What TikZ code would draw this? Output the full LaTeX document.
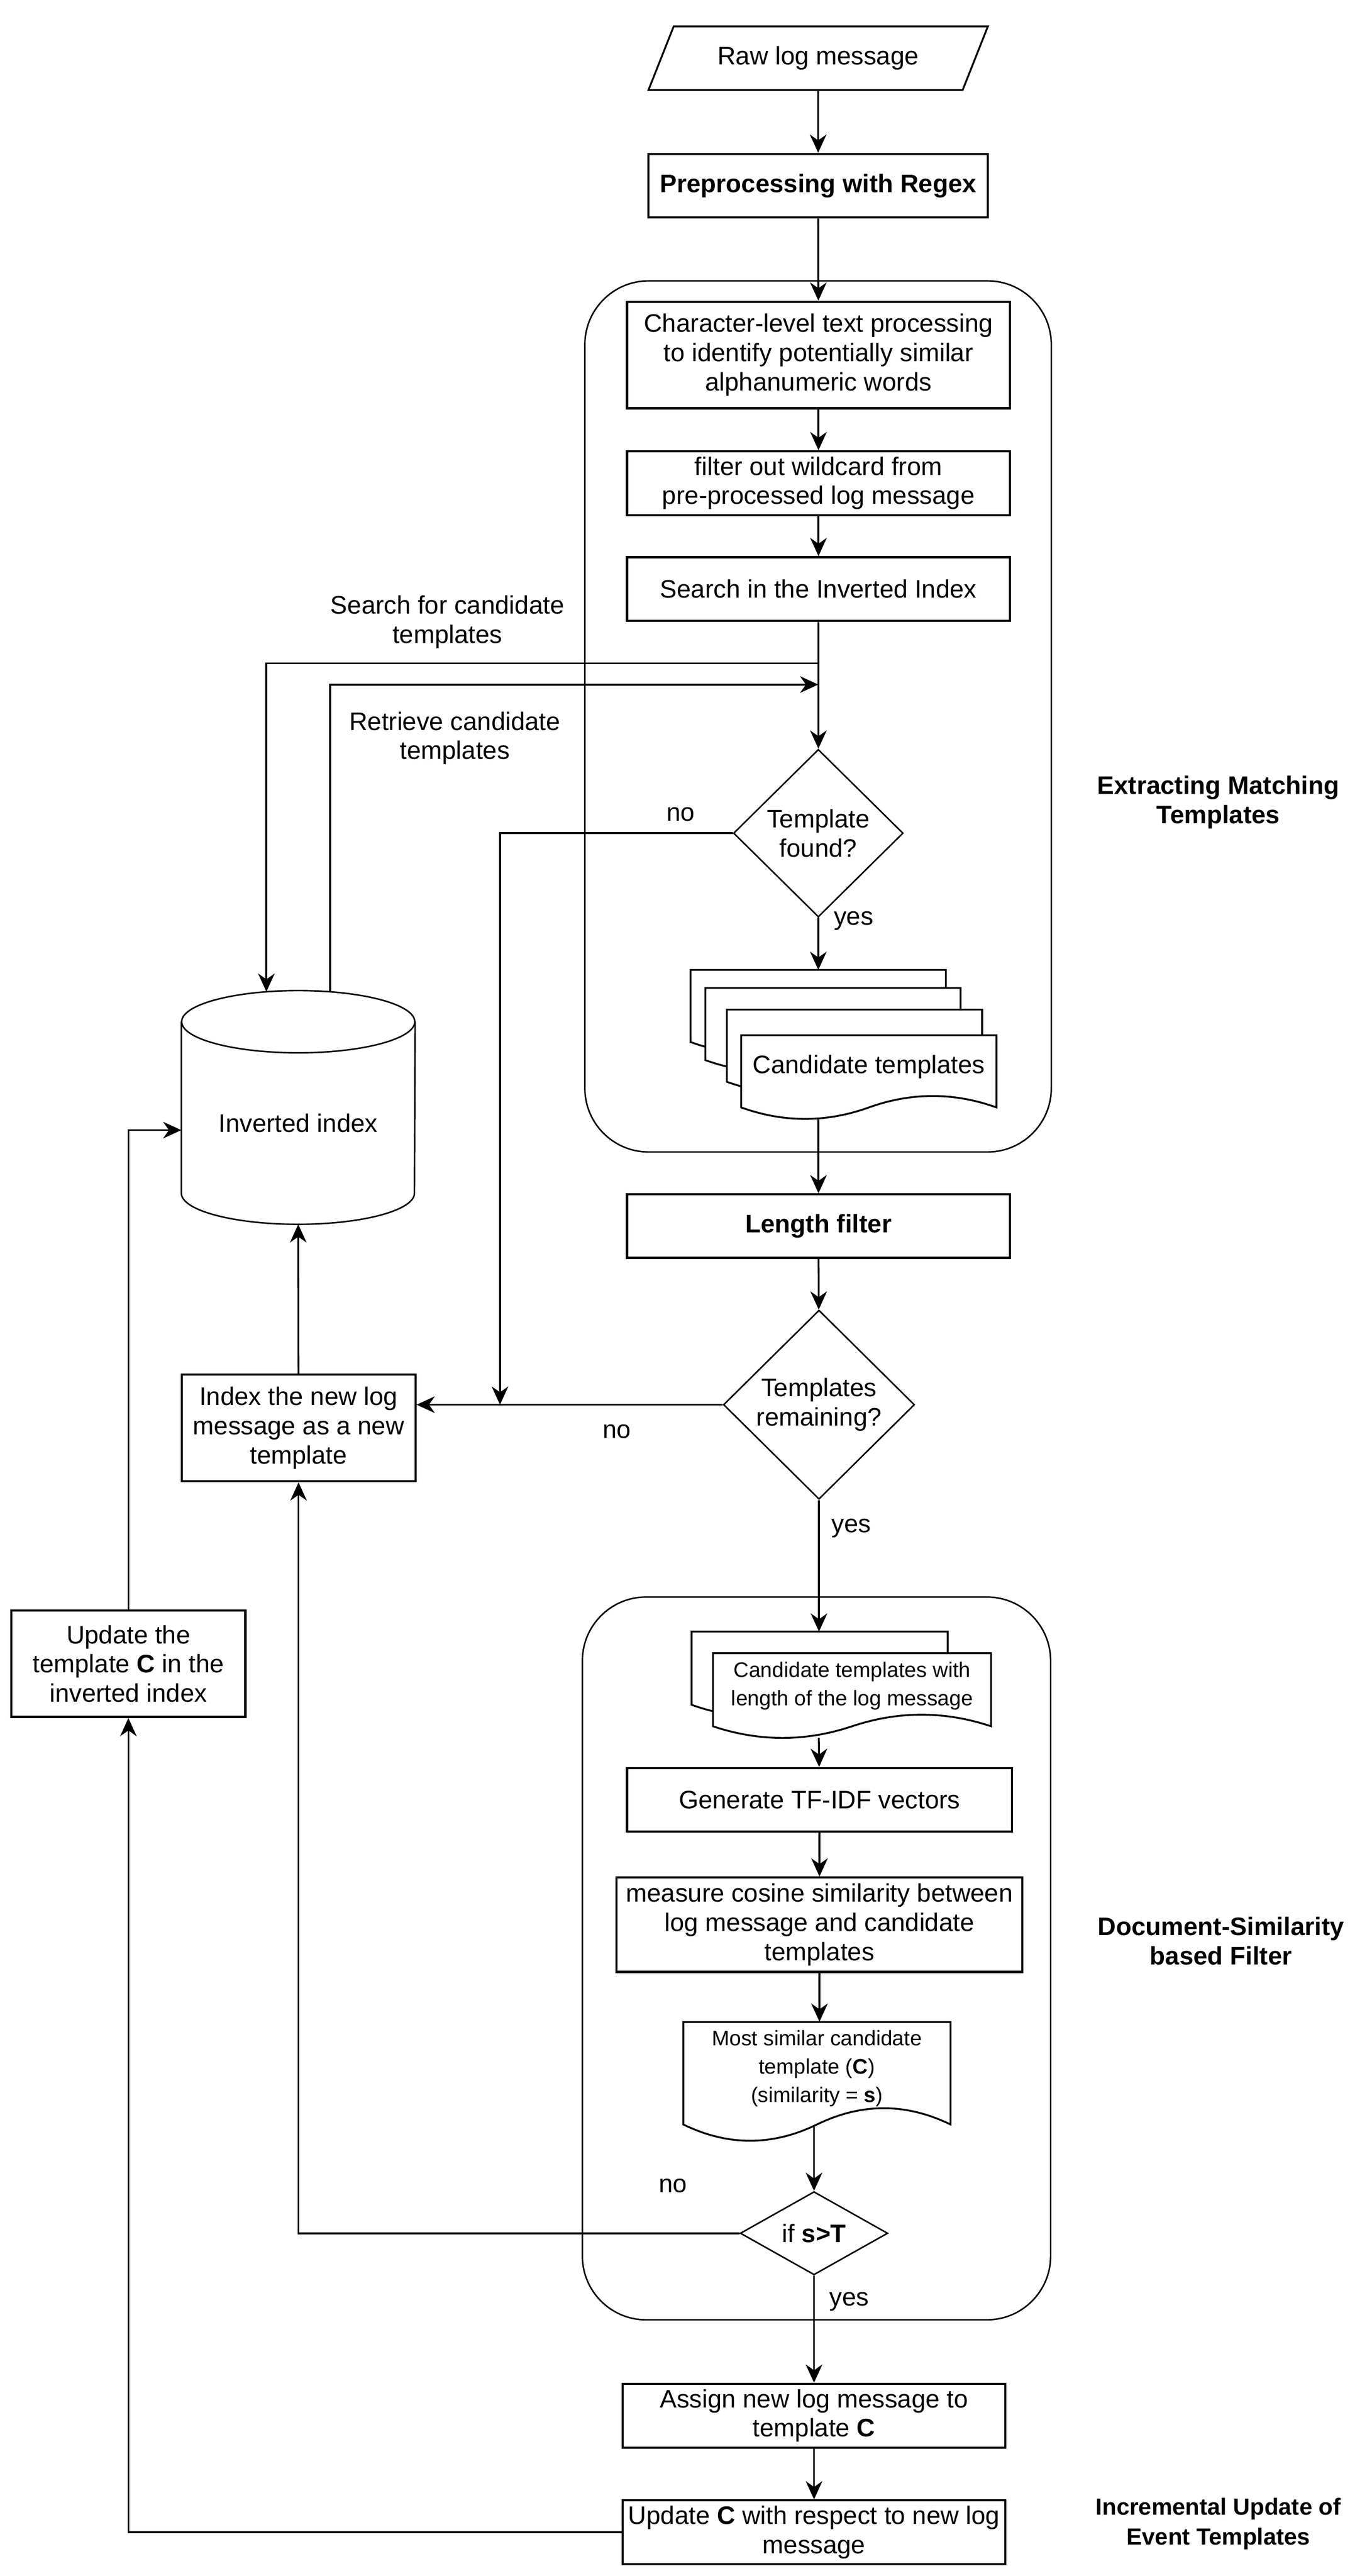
\documentclass[tikz,border=0pt]{standalone}
\usepackage{fontspec}
\setmainfont{Liberation Sans}
\usetikzlibrary{arrows.meta,positioning,shapes.geometric,calc}

\newcommand{\mainsize}{\fontsize{15.3pt}{17.7pt}\selectfont}
\newcommand{\docsize}{\fontsize{12.75pt}{17.1pt}\selectfont}
\newcommand{\titlesize}{\fontsize{14.1pt}{17.8pt}\selectfont}
% document shape: left, top, width, height
\newcommand{\docframe}[4]{%
  \begin{scope}[shift={(#1,#2)},x=#3pt,y=-#4pt]
    \draw[docline] (0,0) -- (1,0) -- (1,0.85)
      .. controls (0.8333,0.67) and (0.6667,0.67) .. (0.5,0.85)
      .. controls (0.3333,1.03) and (0.1667,1.03) .. (0,0.85) -- cycle;
  \end{scope}}

\begin{document}
\begin{tikzpicture}[
    x=1pt,y=-1pt,
    font=\mainsize,
    proc/.style={rectangle,draw,line width=1.3pt,align=center,inner sep=1pt},
    procbold/.style={proc,font=\mainsize\bfseries},
    io/.style={trapezium,trapezium left angle=56.4,trapezium right angle=123.6,trapezium stretches=true,draw,line width=1.1pt,inner sep=1pt},
    decision/.style={diamond,draw,line width=0.9pt,align=center,inner sep=0pt},
    container/.style={rectangle,draw,line width=0.9pt,rounded corners=38.5pt},
    docline/.style={draw,fill=white,line width=1.1pt},
    doctext/.style={rectangle,align=center,inner sep=1pt},
    store/.style={rectangle,inner sep=1pt},
    thinline/.style={line width=0.9pt},
    flow/.style={-{Stealth[length=11pt,width=10pt,inset=3.5pt]},line width=1.1pt},
    section/.style={align=center,font=\mainsize\bfseries},
    note/.style={align=center}
]
\useasboundingbox (0,0) rectangle (829,1556.4);

% groups
\node[container,minimum width=281.9pt,minimum height=526.3pt] (grpA) at (494.45,432.85) {};
\node[container,minimum width=283pt,minimum height=436.7pt] (grpB) at (493.5,1183.25) {};

% main column
\node[io,minimum width=205.3pt,minimum height=38.5pt] (raw) at (494.5,35.2) {Raw log message};
\node[procbold,minimum width=205.3pt,minimum height=38.5pt] (prep) at (494.5,112.2) {Preprocessing with Regex};
\node[proc,minimum width=231.4pt,minimum height=64.4pt] (charlvl) at (494.7,214.5) {Character-level text processing\\to identify potentially similar\\alphanumeric words};
\node[proc,minimum width=231.4pt,minimum height=38.5pt] (wild) at (494.7,291.9) {filter out wildcard from\\pre-processed log message};
\node[proc,minimum width=231.4pt,minimum height=38.5pt] (search) at (494.7,355.9) {Search in the Inverted Index};
\node[decision,minimum width=102.6pt,minimum height=101.3pt] (found) at (494.6,503.4) {Template\\found?};

% stack of candidate templates
\foreach \x/\y in {417.4/586,426.3/596.9,439.3/610,448/625.5} {\docframe{\x}{\y}{154.3}{51.3}}
\node[doctext,minimum width=154.3pt,minimum height=38pt] (cand) at (525.15,644.5) {Candidate templates};
\coordinate (candtop) at (494.6,586);
\coordinate (candout) at (494.7,676.5);

\node[procbold,minimum width=231.4pt,minimum height=38.4pt] (lenbox) at (494.7,740.8) {Length filter};
\node[decision,minimum width=115.5pt,minimum height=114.3pt] (remain) at (495,848.7) {Templates\\remaining?};

% candidates with same length
\docframe{418}{985.8}{154.8}{52}
\docframe{430.9}{998.8}{168.1}{52}
\node[doctext,font=\docsize,minimum width=168.1pt,minimum height=40pt] (cands) at (515,1018.5) {Candidate templates with\\length of the log message};
\coordinate (candstop) at (495,985.8);
\coordinate (candsout) at (494.9,1050);

\node[proc,minimum width=232.6pt,minimum height=38.4pt] (tfidf) at (495.3,1087.4) {Generate TF-IDF vectors};
\node[proc,minimum width=245.2pt,minimum height=57pt] (cosine) at (495.3,1162.9) {measure cosine similarity between\\log message and candidate\\templates};

\docframe{413}{1221.7}{161.5}{72.8}
\node[doctext,font=\docsize,minimum width=161.5pt,minimum height=56pt] (best) at (493.75,1249.7) {Most similar candidate\\template (\textbf{C})\\(similarity = \textbf{s})};
\coordinate (bestout) at (492,1285);

\node[decision,minimum width=89.2pt,minimum height=50.3pt] (ifs) at (492,1349.3) {if \textbf{s>T}};
\node[proc,minimum width=231.4pt,minimum height=38.5pt] (assign) at (492,1459.5) {Assign new log message to\\template \textbf{C}};
\node[proc,minimum width=231.4pt,minimum height=38.5pt] (updc) at (492,1530) {Update \textbf{C} with respect to new log\\message};

% left column
\node[store,minimum width=140.9pt,minimum height=84.4pt] (cyl) at (180.25,678.5) {Inverted index};
\draw[thinline] ([yshift=18.8pt]cyl.north west) -- (cyl.south west)
  arc[start angle=180,end angle=360,x radius=70.45pt,y radius=18.8pt] -- ([yshift=18.8pt]cyl.north east);
\draw[thinline] ([yshift=18.8pt]cyl.north) ellipse [x radius=70.45pt,y radius=18.8pt];
\node[proc,minimum width=141.3pt,minimum height=64.4pt] (newtpl) at (180.45,862.8) {Index the new log\\message as a new\\template};
\node[proc,minimum width=141.4pt,minimum height=64.3pt] (updidx) at (77.6,1005.2) {Update the\\template \textbf{C} in the\\inverted index};

% section titles
\node[section] (titleA) at (736.3,484.8) {Extracting Matching\\Templates};
\node[section] (titleB) at (738,1172.7) {Document-Similarity\\based Filter};
\node[section,font=\titlesize\bfseries] (titleC) at (736.4,1524.9) {Incremental Update of\\Event Templates};

% edge labels
\node[note] (lblsearch) at (270.4,375.7) {Search for candidate\\templates};
\node[note] (lblret) at (274.9,446) {Retrieve candidate\\templates};
\node (no1) at (411.4,491.9) {no};
\node (yes1) at (515.9,556.5) {yes};
\node (no2) at (372.8,864.9) {no};
\node (yes2) at (514.5,923.5) {yes};
\node (no3) at (406.8,1320.5) {no};
\node (yes3) at (513.2,1390.5) {yes};

% connectors
\draw[flow] (raw) -- (prep);
\draw[flow] (prep) -- (charlvl);
\draw[flow] (charlvl) -- (wild);
\draw[flow] (wild) -- (search);
\draw[flow] (search) -- (found);
\coordinate (jsearch) at (494.6,400.8);
\coordinate (jret) at (494.6,413.6);
\draw[flow] (jsearch) -| ([shift={(-19.25pt,36.9pt)}]cyl.north);
\draw[flow] ([shift={(19.35pt,36.9pt)}]cyl.north) |- (jret);
\draw[flow] (found.south) -- (candtop);
\coordinate (nomerge) at (302.2,848.7);
\draw[flow] (found.west) -| (nomerge);
\draw[flow] (candout) -- (lenbox);
\draw[flow] (lenbox) -- (remain);
\draw[flow] (remain.west) -- (remain.west -| newtpl.east);
\draw[flow] (remain.south) -- (candstop);
\draw[flow] (candsout) -- (tfidf);
\draw[flow] (tfidf) -- (cosine);
\draw[flow] (cosine.south) -- (cosine.south |- best.north);
\draw[flow] (bestout) -- (ifs);
\draw[flow] (ifs.west) -| (newtpl.south);
\draw[flow] (ifs) -- (assign);
\draw[flow] (assign) -- (updc);
\draw[flow] (updc.west) -| (updidx.south);
\draw[flow] (updidx.north) |- ([yshift=-4.3pt]cyl.west);
\draw[flow] (newtpl) -- ([yshift=-18.8pt]cyl.south);
\end{tikzpicture}
\end{document}
